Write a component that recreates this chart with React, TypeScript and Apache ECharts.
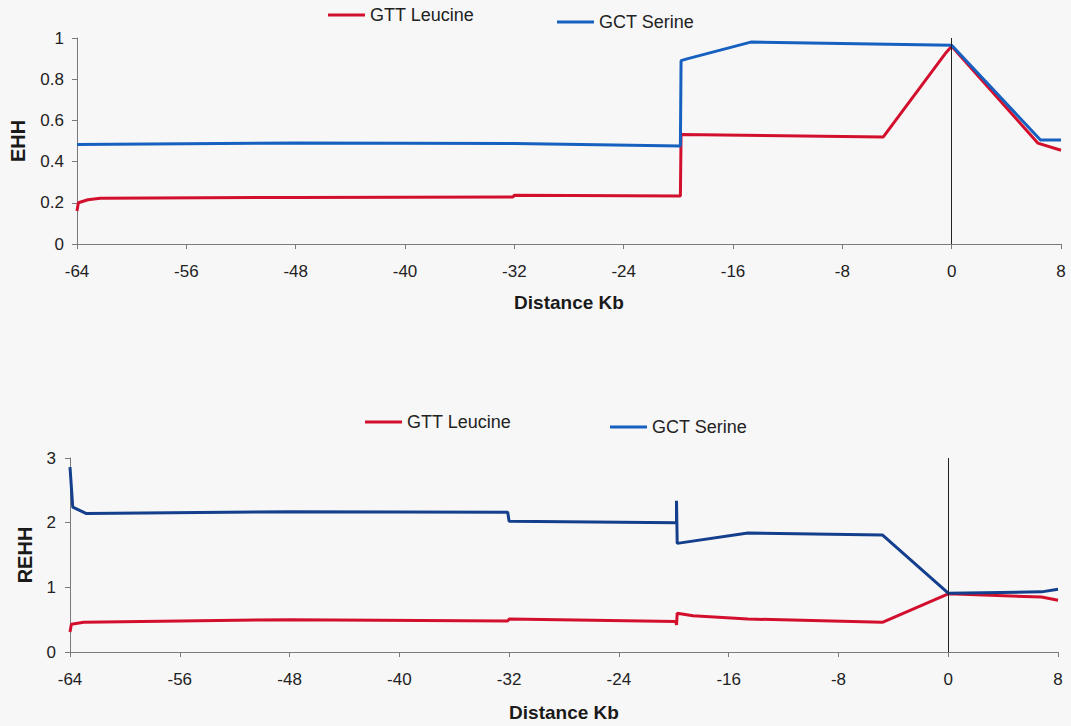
import React, { useEffect, useRef } from "react";
import * as echarts from "echarts";

// Distance from the core SNP, in kilobases
const xTicks = { min: -64, max: 8, step: 8 };

// EHH — extended haplotype homozygosity, [distance Kb, value]
const ehhLeucine: [number, number][] = [
  [-64, 0.16], [-63.9, 0.2], [-63.2, 0.215], [-62.3, 0.222], [-48, 0.226],
  [-32.1, 0.228], [-32, 0.237], [-19.85, 0.233], [-19.8, 0.532], [-5, 0.52],
  [-0.4, 0.93], [0, 0.96], [6.3, 0.49], [8, 0.455],
];
const ehhSerine: [number, number][] = [
  [-64, 0.483], [-48, 0.49], [-32, 0.488], [-19.85, 0.476], [-19.8, 0.89],
  [-19.3, 0.9], [-14.7, 0.98], [0, 0.965], [6.5, 0.505], [8, 0.505],
];

// REHH — relative EHH, [distance Kb, value]
const rehhLeucine: [number, number][] = [
  [-64, 0.31], [-63.9, 0.43], [-63, 0.46], [-48, 0.5], [-32.1, 0.48],
  [-32, 0.51], [-19.85, 0.47], [-19.8, 0.42], [-19.75, 0.6], [-18.6, 0.56],
  [-14.6, 0.51], [-4.8, 0.46], [0, 0.9], [6.8, 0.85], [8, 0.8],
];
const rehhSerine: [number, number][] = [
  [-64, 2.86], [-63.8, 2.24], [-62.8, 2.14], [-48, 2.17], [-32.1, 2.16],
  [-32, 2.02], [-19.8, 2.0], [-19.8, 2.34], [-19.75, 1.68], [-14.6, 1.84],
  [-4.8, 1.81], [0, 0.91], [6.8, 0.93], [8, 0.97],
];

const seriesNames = ["GTT Leucine", "GCT Serine"];
const ehhRange = { min: 0, max: 1, step: 0.2 };
const rehhRange = { min: 0, max: 3, step: 1 };

const RED = "#d2102e";
const BLUE_TOP = "#1660bf";
const BLUE_BOTTOM = "#133f8c";
const FONT = "Liberation Sans, Arial, sans-serif";
const AXIS_GRAY = "#7a7a7a";

function xAxisFor(gridIndex: number) {
  return {
    type: "value",
    gridIndex,
    min: xTicks.min,
    max: xTicks.max,
    interval: xTicks.step,
    name: "Distance Kb",
    nameLocation: "middle",
    nameGap: gridIndex === 0 ? 49 : 51,
    nameMoveOverlap: false,
    nameTextStyle: { fontFamily: FONT, fontWeight: "bold", fontSize: 19, color: "#1a1a1a" },
    axisLine: { show: true, onZero: false, lineStyle: { color: AXIS_GRAY, width: 1 } },
    axisTick: { show: true, inside: false, length: 5, lineStyle: { color: AXIS_GRAY } },
    axisLabel: { fontFamily: FONT, fontSize: 17, color: "#222", margin: 19 },
    splitLine: { show: false },
  };
}

function yAxisFor(
  gridIndex: number,
  name: string,
  range: { min: number; max: number; step: number },
  gap: number,
  labelMargin: number
) {
  return {
    type: "value",
    gridIndex,
    min: range.min,
    max: range.max,
    interval: range.step,
    name,
    nameLocation: "middle",
    nameGap: gap,
    nameMoveOverlap: false,
    nameTextStyle: { fontFamily: FONT, fontWeight: "bold", fontSize: 20, color: "#1a1a1a" },
    axisLine: { show: true, onZero: false, lineStyle: { color: AXIS_GRAY, width: 1 } },
    axisTick: { show: true, inside: false, length: 5, lineStyle: { color: AXIS_GRAY } },
    axisLabel: { fontFamily: FONT, fontSize: 17, color: "#222", margin: labelMargin },
    splitLine: { show: false },
  };
}

// Thin vertical rule through the core position (distance 0)
const zeroLine = {
  silent: true,
  symbol: ["none", "none"],
  label: { show: false },
  lineStyle: { color: "#222", width: 1, type: "solid" },
  data: [{ xAxis: 0 }],
};

function lineSeries(name: string, data: [number, number][], color: string, axisIndex: number, withZeroLine = false) {
  return {
    type: "line",
    name,
    xAxisIndex: axisIndex,
    yAxisIndex: axisIndex,
    data,
    symbol: "none",
    smooth: false,
    color,
    lineStyle: { color, width: 3 },
    ...(withZeroLine ? { markLine: zeroLine } : {}),
  };
}

function legendItem(name: string, left: number, top: number) {
  return {
    data: [name],
    left,
    top,
    padding: 0,
    icon: "rect",
    itemWidth: 37,
    itemHeight: 3,
    itemGap: 0,
    selectedMode: false,
    textStyle: { fontFamily: FONT, fontSize: 18, color: "#222" },
  };
}

export default function App() {
  const ref = useRef<HTMLDivElement>(null);

  useEffect(() => {
    if (!ref.current) return;
    const chart = echarts.init(ref.current, undefined, { renderer: "svg" });
    chart.setOption({
      animation: false,
      backgroundColor: "#f8f7f8",
      legend: [
        legendItem(seriesNames[0], 328, 6),
        legendItem(seriesNames[1], 557, 13),
        legendItem(seriesNames[0], 365, 413),
        legendItem(seriesNames[1], 610, 418),
      ],
      grid: [
        { left: 76, top: 38, width: 985, height: 206 },
        { left: 70, top: 458, width: 988, height: 194 },
      ],
      xAxis: [xAxisFor(0), xAxisFor(1)],
      yAxis: [
        yAxisFor(0, "EHH", ehhRange, 49, 13),
        yAxisFor(1, "REHH", rehhRange, 35, 14),
      ],
      series: [
        lineSeries(seriesNames[0], ehhLeucine, RED, 0, true),
        lineSeries(seriesNames[1], ehhSerine, BLUE_TOP, 0),
        lineSeries(seriesNames[0], rehhLeucine, RED, 1, true),
        lineSeries(seriesNames[1], rehhSerine, BLUE_BOTTOM, 1),
      ],
    });
    return () => chart.dispose();
  }, []);

  return (
    <div
      ref={ref}
      style={{ position: "fixed", left: 0, top: 0, width: 1071, height: 726 }}
    />
  );
}
